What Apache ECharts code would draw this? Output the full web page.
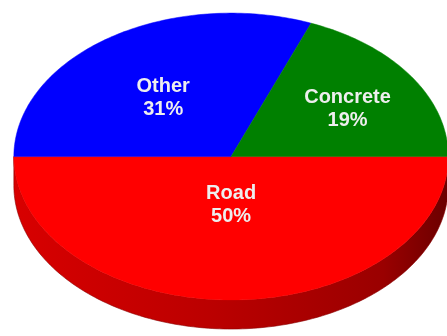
<!DOCTYPE html>
<html><head><meta charset="utf-8">
<script src="https://cdn.jsdelivr.net/npm/echarts@6/dist/echarts.min.js"></script>
<style>html,body{margin:0;padding:0;background:#fff}#c{width:447px;height:336px}</style>
</head><body><div id="c"></div>
<script>
// ---- data ----
const categories = ['Road', 'Other', 'Concrete'];
const values = [50, 31, 19];

// ---- styles (not data) ----
const topColors = {Road: '#ff0000', Other: '#0000ff', Concrete: '#008000'};
const labelRadius = {Road: 0.34, Other: 0.515, Concrete: 0.63};
const labelAngleShift = {Road: 0, Other: 3.2, Concrete: -2.5};
const layout = {cx: 0.517, cy: 0.466, rx: 0.486, ry: 0.427, depth: 29};

const total = values.reduce((a, b) => a + b, 0);
const cum = [];
values.reduce((acc, v, i) => { cum[i] = acc; return acc + v; }, 0);

const chart = echarts.init(document.getElementById('c'), null, {renderer: 'canvas'});

function renderItem(params, api) {
  const i = params.dataIndex;
  const name = categories[i];
  const v = api.value(0), start = api.value(1);
  const W = api.getWidth(), H = api.getHeight();
  const cx = W * layout.cx, cy = H * layout.cy;
  const rx = W * layout.rx, ry = H * layout.ry, d = layout.depth;
  const deg = Math.PI / 180;
  // clockwise from 0 deg (3 o'clock), math angles
  const a0 = -start / total * 360;
  const a1 = a0 - v / total * 360;
  const n = Math.max(2, Math.ceil(Math.abs(a1 - a0)));
  const angs = [];
  for (let k = 0; k <= n; k++) angs.push(a0 + (a1 - a0) * k / n);
  const pt = (a, dy) => [cx + rx * Math.cos(a * deg), cy - ry * Math.sin(a * deg) + (dy || 0)];

  const children = [];
  // side walls (front half only)
  let run = [];
  const flush = () => {
    if (run.length > 1) {
      const top = run.map(a => pt(a, 0));
      const bot = run.slice().reverse().map(a => pt(a, d));
      children.push({
        type: 'polygon', z2: 1,
        shape: {points: top.concat(bot)},
        style: {
          fill: new echarts.graphic.LinearGradient(0, 0, 1, 0, [
            {offset: 0, color: '#d80000'},
            {offset: 0.45, color: '#bb0000'},
            {offset: 0.85, color: '#9a0000'},
            {offset: 1, color: '#6a0000'}
          ]),
          stroke: '#8a0000', lineWidth: 0.6
        }
      });
    }
    run = [];
  };
  angs.forEach(a => {
    if (Math.sin(a * deg) <= 1e-9) run.push(a); else flush();
  });
  flush();

  // top face
  const pts = [[cx, cy]].concat(angs.map(a => pt(a, 0)));
  children.push({
    type: 'polygon', z2: 10,
    shape: {points: pts},
    style: {fill: topColors[name], stroke: topColors[name], lineWidth: 0.5}
  });

  // label
  const mid = (a0 + a1) / 2 + labelAngleShift[name];
  const r = labelRadius[name];
  children.push({
    type: 'text', z2: 20,
    x: cx + rx * r * Math.cos(mid * deg),
    y: cy - ry * r * Math.sin(mid * deg),
    style: {
      text: name + '\n' + Math.round(v / total * 100) + '%',
      fill: '#eeeeee',
      font: 'bold 20px "Liberation Sans", Arial, sans-serif',
      lineHeight: 23,
      align: 'center', verticalAlign: 'middle'
    }
  });
  return {type: 'group', children: children};
}

chart.setOption({
  animation: false,
  backgroundColor: '#ffffff',
  series: [{
    type: 'custom',
    coordinateSystem: 'none',
    renderItem: renderItem,
    data: values.map((v, i) => [v, cum[i]])
  }]
});
</script>
</body></html>
